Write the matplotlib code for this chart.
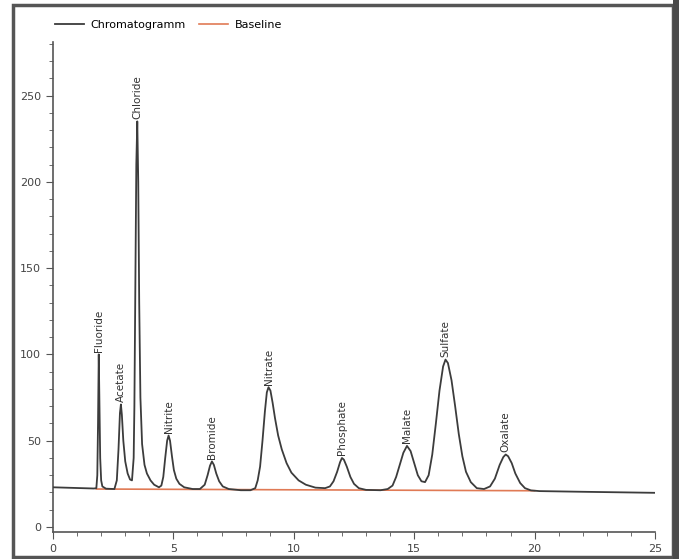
import matplotlib
matplotlib.use("Agg")
import matplotlib.pyplot as plt
from matplotlib.patches import Rectangle
from matplotlib.ticker import MultipleLocator

# chromatogram (retention time [min], signal)
time = [0.0, 1.0, 1.7, 1.80, 1.84, 1.87, 1.90, 1.93, 1.96, 2.00, 2.05, 2.2,
        2.55, 2.65, 2.72, 2.78, 2.82, 2.86, 2.92, 3.0, 3.1, 3.2, 3.28, 3.35,
        3.38, 3.42, 3.46, 3.50, 3.54, 3.58, 3.63, 3.7, 3.8, 3.9, 4.05, 4.2, 4.4,
        4.5, 4.58, 4.66, 4.74, 4.8, 4.86, 4.94, 5.02, 5.12, 5.25, 5.45, 5.8,
        6.1, 6.3, 6.42, 6.52, 6.6, 6.68, 6.78, 6.9, 7.05, 7.3, 7.8, 8.2,
        8.4, 8.5, 8.6, 8.7, 8.8, 8.88, 8.95, 9.03, 9.12, 9.22, 9.35, 9.5, 9.7,
        9.9, 10.2, 10.5, 10.9, 11.3, 11.5, 11.65, 11.8, 11.92, 12.0, 12.08,
        12.2, 12.35, 12.5, 12.7, 13.0, 13.6, 13.9, 14.1, 14.25, 14.4, 14.55,
        14.7, 14.85, 15.0, 15.15, 15.3, 15.45, 15.6, 15.75, 15.9, 16.05, 16.2,
        16.3, 16.4, 16.55, 16.7, 16.85, 17.0, 17.15, 17.35, 17.6, 17.9, 18.15,
        18.35, 18.55, 18.7, 18.8, 18.9, 19.05, 19.2, 19.4, 19.6, 19.85, 20.2,
        22.0, 25.0]
signal = [23.0, 22.6, 22.3, 22.5, 30, 60, 100, 70, 40, 27, 23.5, 22.2,
          22.0, 27, 45, 66, 71, 65, 50, 38, 31, 27.5, 27, 40,
          70, 140, 210, 235, 200, 130, 75, 48, 36, 31, 27, 24.5, 23.0,
          24, 29, 40, 50, 53, 50, 41, 33, 28, 25, 23.0, 22.0,
          22.0, 24.5, 30, 35.5, 38, 36, 31, 26.5, 23.5, 22.0, 21.3, 21.3,
          22.5, 27, 35, 50, 67, 78, 81, 79, 72, 63, 53, 45, 37,
          31.5, 27, 24.5, 22.8, 22.5, 23.5, 26.5, 32, 37.5, 40, 39,
          35, 29, 25, 22.5, 21.5, 21.3, 22.0, 24, 29, 36, 43,
          47, 44, 37, 30, 26.5, 26, 30, 42, 60, 79, 93,
          97, 95, 85, 70, 54, 41, 32, 26, 22.5, 22.0, 23.5,
          28, 36, 40.5, 42, 41, 37, 31, 25.5, 22.5, 21.2, 20.8,
          20.4, 19.8]

base_time = [1.8, 20.0]
base_signal = [22.0, 21.0]

peak_names = ["Fluoride", "Acetate", "Chloride", "Nitrite", "Bromide", "Nitrate",
              "Phosphate", "Malate", "Sulfate", "Oxalate"]
peak_time = [1.9, 2.82, 3.5, 4.8, 6.6, 8.95, 12.0, 14.7, 16.3, 18.8]
peak_height = [100, 71, 235, 53, 38, 81, 40, 47, 97, 42]

fig = plt.figure(figsize=(6.79, 5.59), dpi=100)
ax = fig.add_axes([53 / 679, 27 / 559, 602 / 679, 490 / 559])

line_col = "#3c3c3c"
ax.plot(time, signal, color=line_col, lw=1.3, label="Chromatogramm", zorder=3)
ax.plot(base_time, base_signal, color="#e07a55", lw=1.2, label="Baseline", zorder=2)

for name, t, h in zip(peak_names, peak_time, peak_height):
    ax.text(t, h + 1.5, name, rotation=90, ha="center", va="bottom",
            fontsize=7.5, color="#333333")

ax.set_xlim(0, 25)
ax.set_ylim(-2.9, 281)
ax.xaxis.set_major_locator(MultipleLocator(5))
ax.xaxis.set_minor_locator(MultipleLocator(1))
ax.yaxis.set_major_locator(MultipleLocator(50))
ax.yaxis.set_minor_locator(MultipleLocator(10))
for s in ["top", "right"]:
    ax.spines[s].set_visible(False)
for s in ["left", "bottom"]:
    ax.spines[s].set_color("#555555")
    ax.spines[s].set_linewidth(1.2)
ax.tick_params(which="both", colors="#555555", labelsize=8, labelcolor="#444444")
ax.tick_params(which="major", length=5)
ax.tick_params(which="minor", length=3)

fig.legend(loc="upper left", bbox_to_anchor=(0.066, 0.982), ncol=2, frameon=False,
           fontsize=8, handlelength=2.6, columnspacing=1.2, handletextpad=0.6)

# screenshot frame around the picture
fig.patches.append(Rectangle((13 / 679, 2 / 559), 660 / 679, 552 / 559,
                             transform=fig.transFigure, fill=False,
                             edgecolor="#555555", lw=2.5))
fig.patches.append(Rectangle((673 / 679, 0), 6 / 679, 1,
                             transform=fig.transFigure, color="#4a4a4a", lw=0))

fig.savefig("out.png", dpi=100)
